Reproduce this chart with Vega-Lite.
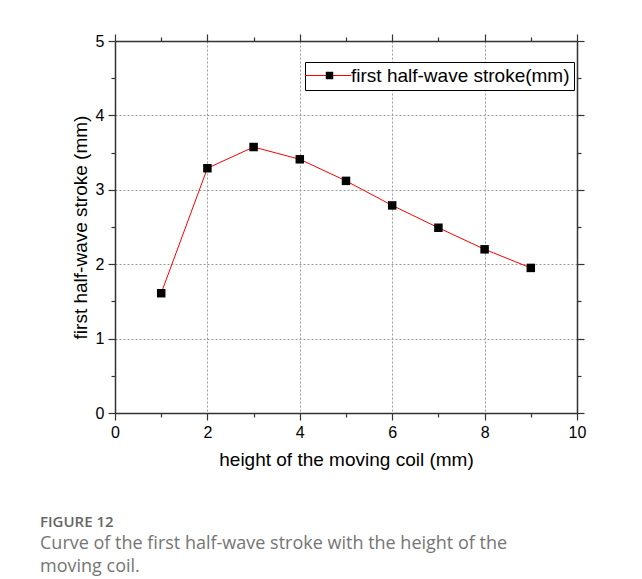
{
  "$schema": "https://vega.github.io/schema/vega-lite/v6.json",
  "width": 462,
  "height": 372,
  "autosize": {"type": "none"},
  "padding": {"left": 115, "top": 41, "right": 65, "bottom": 166},
  "background": "white",
  "data": {
    "values": [
      {"height": 1, "stroke": 1.61},
      {"height": 2, "stroke": 3.29},
      {"height": 3, "stroke": 3.575},
      {"height": 4, "stroke": 3.41},
      {"height": 5, "stroke": 3.12},
      {"height": 6, "stroke": 2.79},
      {"height": 7, "stroke": 2.49},
      {"height": 8, "stroke": 2.2},
      {"height": 9, "stroke": 1.95}
    ]
  },
  "title": {
    "text": "FIGURE 12",
    "subtitle": ["Curve of the first half-wave stroke with the height of the", "moving coil."],
    "orient": "bottom",
    "anchor": "start",
    "frame": "group",
    "dx": -75,
    "offset": 46,
    "font": "Open Sans",
    "fontSize": 15,
    "fontWeight": 600,
    "color": "#666666",
    "subtitleFont": "Open Sans",
    "subtitleFontSize": 18,
    "subtitleFontWeight": 400,
    "subtitleColor": "#757575",
    "subtitleLineHeight": 23,
    "subtitlePadding": 5
  },
  "layer": [
    {
      "mark": {"type": "line", "color": "#ff0000", "strokeWidth": 1},
      "encoding": {
        "x": {
          "field": "height",
          "type": "quantitative",
          "scale": {"domain": [0, 10], "nice": false, "zero": false},
          "axis": {
            "orient": "bottom",
            "title": "height of the moving coil (mm)",
            "format": "d",
            "values": [0, 1, 2, 3, 4, 5, 6, 7, 8, 9, 10],
            "labelExpr": "datum.value % 2 == 0 ? datum.label : ''",
            "tickSize": {"condition": {"test": "datum.value % 2 != 0", "value": 4}, "value": 7},
            "grid": true,
            "gridOpacity": {"condition": {"test": "datum.value % 2 != 0 || datum.value == 0 || datum.value == 10", "value": 0}, "value": 1}
          }
        },
        "y": {
          "field": "stroke",
          "type": "quantitative",
          "scale": {"domain": [0, 5], "nice": false, "zero": false},
          "axis": {
            "orient": "left",
            "title": "first half-wave stroke (mm)",
            "format": "~g",
            "values": [0, 0.5, 1, 1.5, 2, 2.5, 3, 3.5, 4, 4.5, 5],
            "labelExpr": "datum.value % 1 == 0 ? datum.label : ''",
            "tickSize": {"condition": {"test": "datum.value % 1 != 0", "value": 4}, "value": 7},
            "grid": true,
            "gridOpacity": {"condition": {"test": "datum.value % 1 != 0 || datum.value == 0 || datum.value == 5", "value": 0}, "value": 1}
          }
        },
        "stroke": {
          "datum": "first half-wave stroke(mm)",
          "type": "nominal",
          "scale": {"range": ["#ff0000"]},
          "legend": {
            "orient": "none",
            "legendX": 190,
            "legendY": 21,
            "title": null,
            "symbolType": "M-3,0H7.3",
            "symbolSize": 81,
            "symbolStrokeWidth": 1,
            "labelFont": "Liberation Sans",
            "labelFontSize": 19,
            "labelColor": "#000000",
            "labelLimit": 0,
            "labelOffset": 23,
            "padding": 4,
            "strokeColor": "#000000",
            "fillColor": "#ffffff"
          }
        }
      }
    },
    {
      "mark": {"type": "point", "shape": "square", "filled": true, "color": "#000000", "size": 72, "opacity": 1},
      "encoding": {
        "x": {
          "field": "height",
          "type": "quantitative",
          "axis": {
            "orient": "top",
            "title": null,
            "labels": false,
            "grid": false,
            "values": [0, 1, 2, 3, 4, 5, 6, 7, 8, 9, 10],
            "tickSize": {"condition": {"test": "datum.value % 2 != 0", "value": 4}, "value": 7}
          }
        },
        "y": {
          "field": "stroke",
          "type": "quantitative",
          "axis": {
            "orient": "right",
            "title": null,
            "labels": false,
            "grid": false,
            "values": [0, 0.5, 1, 1.5, 2, 2.5, 3, 3.5, 4, 4.5, 5],
            "tickSize": {"condition": {"test": "datum.value % 1 != 0", "value": 4}, "value": 7}
          }
        },
        "shape": {
          "datum": "marker",
          "type": "nominal",
          "scale": {"range": ["square"]},
          "legend": {
            "orient": "none",
            "legendX": 201,
            "legendY": 21,
            "title": null,
            "symbolSize": 56,
            "symbolFillColor": "#000000",
            "symbolStrokeWidth": 0,
            "labelExpr": "''",
            "labelFont": "Liberation Sans",
            "labelFontSize": 19,
            "padding": 4
          }
        }
      }
    }
  ],
  "resolve": {"axis": {"x": "independent", "y": "independent"}},
  "config": {
    "view": {"stroke": null},
    "axis": {
      "domainColor": "#333333",
      "domainWidth": 1.5,
      "tickColor": "#333333",
      "tickWidth": 1.2,
      "labelFont": "Liberation Sans",
      "labelFontSize": 16,
      "labelColor": "#000000",
      "labelPadding": 4,
      "titleFont": "Liberation Sans",
      "titleFontSize": 19,
      "titleFontWeight": "normal",
      "titleColor": "#000000",
      "gridColor": "#9a9a9a",
      "gridDash": [2, 2],
      "gridWidth": 1
    },
    "axisX": {"titlePadding": 10, "labelFlush": false},
    "axisY": {"titlePadding": 5, "labelFlush": false}
  }
}
